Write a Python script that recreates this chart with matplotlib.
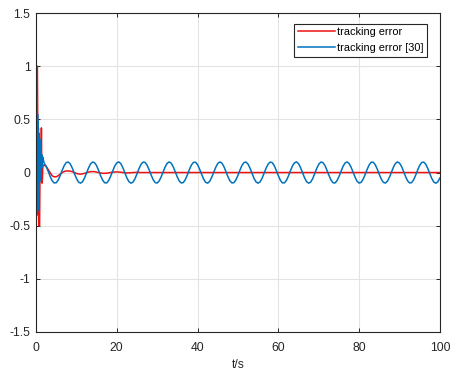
import numpy as np
import matplotlib
matplotlib.use("Agg")
import matplotlib.pyplot as plt

plt.rcParams['font.family'] = ['Liberation Sans', 'DejaVu Sans']

# tracking error (red): start-up transient, damped ripple, then flat
t_red = [0.0, 0.15, 0.35, 0.45, 0.6, 0.7, 0.9, 1.0, 1.1, 1.2, 1.25, 1.35, 1.42, 1.5, 1.6, 1.7, 1.8, 1.9,
         2.0, 2.5, 3.0, 3.5, 4.0, 4.5, 5.0, 5.5, 6.0, 6.5, 7.0, 7.5, 8.0, 8.5, 9.0, 9.5,
         10.0, 10.5, 11.0, 11.5, 12.0, 12.5, 13.0, 13.5, 14.0, 14.5, 15.0, 15.5, 16.0, 16.5,
         17.0, 17.5, 18.0, 18.5, 19.0, 19.5, 20.0, 20.5, 21.0, 21.5, 22.0, 22.5, 23.0, 23.5,
         24.0, 24.5, 25.0, 25.5, 26.0, 100.0]
e_red = [0.3, 1.0, 1.0, 0.4, -0.3, -0.5, -0.5, 0.0, 0.2, -0.05, 0.1, 0.42, 0.1, -0.1, -0.05, 0.05, 0.07, 0.07,
         0.07, 0.06, 0.03, 0.0, -0.03, -0.04, -0.04, -0.03, -0.015, 0.0, 0.01, 0.015, 0.015, 0.013, 0.008, 0.0,
         -0.008, -0.013, -0.015, -0.013, -0.008, -0.002, 0.004, 0.008, 0.009, 0.008, 0.004, 0.0, -0.004, -0.007,
         -0.007, -0.006, -0.003, 0.0, 0.003, 0.005, 0.006, 0.005, 0.003, 0.0, -0.002, -0.003, -0.003, -0.002,
         0.0, 0.001, 0.002, 0.001, 0.0, 0.0]

# tracking error [30] (blue): fast start-up chatter (0 - 1.95 s, every 0.05 s)
e_blue_start = [0.74, -0.40, 0.72, -0.40, 0.70, -0.40, 0.62, -0.38, 0.55, -0.35,
                0.48, -0.30, 0.42, -0.22, 0.37, -0.15, 0.34, -0.10, 0.32, -0.08,
                0.30, -0.05, 0.27, -0.02, 0.24, 0.00, 0.20, 0.03, 0.17, 0.05,
                0.16, 0.08, 0.15, 0.10, 0.14, 0.11, 0.12, 0.11, 0.11, 0.10]
# then the steady ripple (2 - 100 s, every 0.5 s)
e_blue_ripple = [
    0.091, 0.060, 0.014, -0.035, -0.076, -0.098, -0.096, -0.071, -0.028, 0.022,
    0.066, 0.094, 0.099, 0.080, 0.041, -0.008, -0.054, -0.088, -0.100, -0.088,
    -0.054, -0.007, 0.042, 0.080, 0.099, 0.093, 0.065, 0.021, -0.029, -0.071,
    -0.096, -0.098, -0.075, -0.034, 0.015, 0.061, 0.091, 0.100, 0.084, 0.047,
    -0.001, -0.049, -0.085, -0.100, -0.091, -0.059, -0.013, 0.036, 0.076, 0.098,
    0.096, 0.070, 0.027, -0.022, -0.066, -0.094, -0.099, -0.079, -0.040, 0.008,
    0.055, 0.088, 0.100, 0.087, 0.053, 0.006, -0.043, -0.081, -0.099, -0.093,
    -0.064, -0.020, 0.030, 0.072, 0.096, 0.097, 0.075, 0.033, -0.016, -0.061,
    -0.092, -0.100, -0.083, -0.046, 0.002, 0.049, 0.085, 0.100, 0.090, 0.058,
    0.012, -0.037, -0.077, -0.098, -0.095, -0.069, -0.026, 0.023, 0.067, 0.094,
    0.099, 0.079, 0.040, -0.009, -0.056, -0.089, -0.100, -0.087, -0.052, -0.005,
    0.044, 0.081, 0.099, 0.093, 0.064, 0.019, -0.030, -0.072, -0.097, -0.097,
    -0.074, -0.033, 0.017, 0.062, 0.092, 0.100, 0.083, 0.046, -0.003, -0.050,
    -0.086, -0.100, -0.090, -0.058, -0.011, 0.038, 0.077, 0.098, 0.095, 0.069,
    0.025, -0.024, -0.068, -0.095, -0.099, -0.078, -0.039, 0.010, 0.057, 0.089,
    0.100, 0.086, 0.051, 0.004, -0.044, -0.082, -0.099, -0.092, -0.063, -0.018,
    0.031, 0.073, 0.097, 0.097, 0.073, 0.032, -0.018, -0.063, -0.092, -0.099,
    -0.082, -0.045, 0.004, 0.051, 0.086, 0.100, 0.089, 0.057, 0.011, -0.038,
    -0.078, -0.098, -0.095, -0.068, -0.025, 0.025, 0.068, 0.095, 0.098, 0.078,
    0.038, -0.011, -0.057, -0.090, -0.100, -0.086, -0.051]

t_blue = np.concatenate([np.arange(len(e_blue_start)) * 0.05,
                         2.0 + np.arange(len(e_blue_ripple)) * 0.5])
e_blue = np.array(e_blue_start + e_blue_ripple)

fig = plt.figure(figsize=(4.67, 3.74), dpi=100)
ax = fig.add_axes([0.077, 0.1123, 0.865, 0.8527])

ax.plot(t_red, e_red, color='#ee1111', lw=1.1, label='tracking error')
ax.plot(t_blue, e_blue, color='#0072bd', lw=1.1, label='tracking error [30]')

ax.set_xlim(0, 100)
ax.set_ylim(-1.5, 1.5)
ax.set_xticks([0, 20, 40, 60, 80, 100])
ax.set_yticks([-1.5, -1, -0.5, 0, 0.5, 1, 1.5])
ax.set_yticklabels(['-1.5', '-1', '-0.5', '0', '0.5', '1', '1.5'])
ax.grid(True, color='#e3e3e3', lw=0.8)
ax.set_axisbelow(True)
ax.tick_params(direction='in', length=3, width=0.7, colors='#262626',
               labelsize=8.7, top=True, right=True)
ax.tick_params(axis='x', pad=7)
ax.tick_params(axis='y', pad=4)
for s in ax.spines.values():
    s.set_color('#262626')
    s.set_linewidth(0.8)
ax.set_xlabel('t/s', fontsize=8.7, color='#262626', labelpad=4)

leg = ax.legend(loc='upper right', fontsize=7.9, handlelength=3.4, handletextpad=0.2,
                borderpad=0.3, labelspacing=0.55, fancybox=False, framealpha=1,
                bbox_to_anchor=(0.968, 0.966), borderaxespad=0)
leg.get_frame().set_edgecolor('#262626')
leg.get_frame().set_linewidth(0.8)

fig.savefig('out.png', dpi=100)
